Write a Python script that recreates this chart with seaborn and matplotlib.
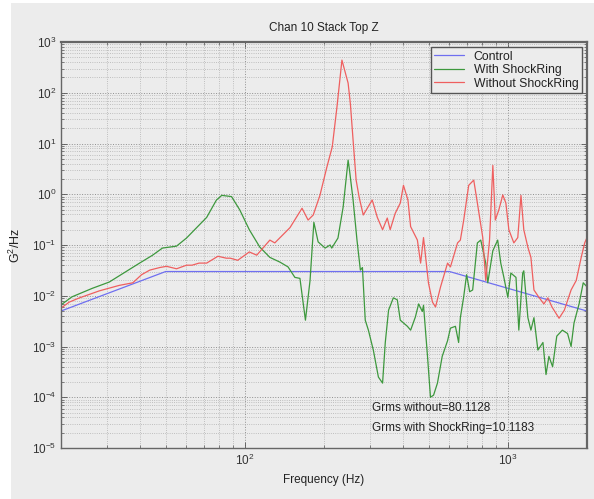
import numpy as np
import pandas as pd
import matplotlib
matplotlib.use("Agg")
import matplotlib.pyplot as plt
from matplotlib.patches import Rectangle
from matplotlib.ticker import LogLocator, NullFormatter, FixedLocator
import seaborn as sns

# ---------------- data ----------------
control_f = [20, 50, 600, 2000]
control_v = [0.005, 0.03, 0.03, 0.005]

with_f = [20, 22, 26.3, 30.5, 39.8, 44.6, 48.6, 55, 60, 65.6, 71.6, 78, 81.7, 89, 95.7,
          104, 114, 124.5, 136, 146, 155, 162, 170, 177, 183, 190, 202, 211, 214, 226,
          236.5, 247, 250, 258, 267, 275, 280, 287, 295, 308, 322, 334, 342, 352, 367,
          380, 390, 415, 427, 445, 458, 473, 478, 495, 508, 522, 540, 563, 590, 605,
          632, 650, 660, 679, 697, 716, 735, 766, 789, 824, 839, 877, 915, 940, 966,
          1000, 1027, 1074, 1101, 1139, 1150, 1192, 1224, 1257, 1301, 1360, 1397, 1433,
          1480, 1535, 1612, 1687, 1740, 1785, 1866, 1935, 2000]
with_v = [0.0066, 0.0095, 0.014, 0.0186, 0.044, 0.063, 0.087, 0.095, 0.137, 0.22, 0.35,
          0.77, 0.95, 0.9, 0.49,
          0.2, 0.091, 0.057, 0.046, 0.037, 0.023, 0.022, 0.0033, 0.02, 0.28, 0.115, 0.087,
          0.1, 0.087, 0.137,
          0.56, 4.7, 3.0, 0.77, 0.124, 0.032, 0.036, 0.0033, 0.0021, 0.00085, 0.00025,
          0.00019, 0.0012, 0.0052, 0.0091,
          0.0083, 0.0033, 0.0025, 0.0021, 0.0038, 0.0069, 0.0049, 0.0065, 0.00064, 0.0001,
          0.00011, 0.00019, 0.00064, 0.0013, 0.0023,
          0.0025, 0.0012, 0.0037, 0.0093, 0.026, 0.012, 0.013, 0.11, 0.125, 0.044, 0.018,
          0.077, 0.125, 0.044, 0.023,
          0.0093, 0.028, 0.023, 0.0021, 0.028, 0.031, 0.0037, 0.0021, 0.0037, 0.00085,
          0.0012, 0.00028, 0.00064,
          0.0004, 0.0016, 0.0021, 0.0018, 0.001, 0.0029, 0.0069, 0.018, 0.015]

without_f = [20, 21.5, 23.4, 28, 33.3, 37.5, 40.5, 43.5, 47.5, 50.4, 55, 60, 63, 67, 71.6,
             75.5, 79, 85, 88, 94, 104, 111, 124.5, 130, 148.5, 165, 174, 182, 193, 205,
             215, 224, 234, 247, 252, 258, 265, 272, 282, 305, 319, 334, 348, 357, 373,
             390, 401, 417, 427, 453, 466, 478, 499, 517, 531, 555, 590, 605, 644, 660,
             679, 710, 742, 766, 803, 824, 852, 877, 896, 924, 957, 983, 1009, 1054, 1091,
             1122, 1150, 1192, 1224, 1257, 1313, 1371, 1420, 1472, 1566, 1640, 1740, 1820,
             1901, 1960, 2000]
without_v = [0.0057, 0.0075, 0.009, 0.0125, 0.016, 0.018, 0.026, 0.032, 0.036, 0.038,
             0.034, 0.04, 0.04, 0.044, 0.044,
             0.052, 0.06, 0.055, 0.055, 0.05, 0.073, 0.063, 0.125, 0.11, 0.22, 0.53, 0.31,
             0.39, 0.95, 3.4,
             8.6, 52, 440, 155, 60, 11.7, 1.9, 0.88, 0.39, 0.77, 0.35, 0.2, 0.34, 0.2, 0.42,
             0.67, 1.5, 0.77, 0.23, 0.125, 0.044, 0.14, 0.018, 0.0075, 0.006, 0.015, 0.044,
             0.037, 0.11, 0.125,
             0.3, 1.5, 1.9, 0.67, 0.14, 0.02, 0.125, 3.7, 0.31, 0.49, 0.97, 0.67, 0.2, 0.11,
             0.14,
             0.95, 0.2, 0.09, 0.057, 0.013, 0.0093, 0.0069, 0.0091, 0.006, 0.0036, 0.0052,
             0.013, 0.02,
             0.057, 0.11, 0.14]

series_names = ["Control", "With ShockRing", "Without ShockRing"]
series_colors = ["#6f6ff0", "#3d983d", "#ef5f5f"]
title_text = "Chan 10 Stack Top Z"
xlabel_text = "Frequency (Hz)"
ylabel_text = "G$^2$/Hz"
note_lines = ["Grms without=80.1128", "Grms with ShockRing=10.1183"]
y_major = [1e-5, 1e-4, 1e-3, 1e-2, 1e-1, 1e0, 1e1, 1e2, 1e3]
x_major = [100, 1000]

# ---------------- styling ----------------
sns.set_style("ticks")
plt.rcParams["font.family"] = ["Liberation Sans", "DejaVu Sans"]
plt.rcParams["mathtext.fontset"] = "custom"
plt.rcParams["mathtext.rm"] = "Liberation Sans"

BG = "#ececec"
fig = plt.figure(figsize=(5.94, 4.99), dpi=100, facecolor="white")
fig.patches.append(Rectangle((11 / 594, 0), 1, (499 - 3) / 499,
                             transform=fig.transFigure, facecolor=BG,
                             edgecolor="none", zorder=-10))
ax = fig.add_axes([61 / 594, (499 - 448) / 499, 526 / 594, 406 / 499])
ax.set_facecolor(BG)

frames = []
for name, f, v in zip(series_names, [control_f, with_f, without_f],
                      [control_v, with_v, without_v]):
    frames.append(pd.DataFrame({"freq": f, "val": v, "series": name}))
df = pd.concat(frames, ignore_index=True)

sns.lineplot(data=df, x="freq", y="val", hue="series", hue_order=series_names,
             palette=series_colors, sort=False, estimator=None, lw=0.9, ax=ax,
             legend=True)

ax.set_xscale("log")
ax.set_yscale("log")
ax.set_xlim(20, 2000)
ax.set_ylim(1e-5, 1e3)

ax.yaxis.set_major_locator(FixedLocator(y_major))
ax.yaxis.set_minor_locator(LogLocator(base=10, subs=np.arange(2, 10), numticks=100))
ax.yaxis.set_minor_formatter(NullFormatter())
ax.xaxis.set_major_locator(FixedLocator(x_major))
ax.xaxis.set_minor_locator(LogLocator(base=10, subs=np.arange(2, 10), numticks=100))
ax.xaxis.set_minor_formatter(NullFormatter())

ax.grid(True, which="major", linestyle=":", color="#8f8f8f", lw=0.7)
ax.grid(True, which="minor", linestyle=":", color="#b0b0b0", lw=0.6)

ax.tick_params(which="both", direction="in", top=True, right=True,
               colors="#555555", labelcolor="#333333", labelsize=8.5)
ax.tick_params(which="major", length=4, width=0.6)
ax.tick_params(which="minor", length=2, width=0.5)
for side, sp in ax.spines.items():
    sp.set_color("#666666")
    sp.set_linewidth(1.0)
ax.spines["top"].set_linewidth(1.6)
ax.spines["right"].set_linewidth(1.6)

ax.set_title(title_text, fontsize=8.5, color="#222222", pad=8)
ax.set_xlabel(xlabel_text, fontsize=8.5, color="#222222", labelpad=4)
ax.set_ylabel(ylabel_text, fontsize=9, color="#222222", labelpad=6)

leg = ax.legend(loc="upper right", bbox_to_anchor=(0.9905, 0.9877), borderaxespad=0,
                fontsize=8.8, frameon=True, fancybox=False, handlelength=2.4,
                handletextpad=0.8, labelspacing=0.12, borderpad=0.3)
leg.get_frame().set_edgecolor("#555555")
leg.get_frame().set_linewidth(1.0)
leg.get_frame().set_facecolor(BG)
leg.get_frame().set_alpha(1)
for t in leg.get_texts():
    t.set_color("#222222")

ax.text(0.591, 0.0985, note_lines[0], transform=ax.transAxes, fontsize=8.5,
        color="#222222", va="center", ha="left")
ax.text(0.591, 0.049, note_lines[1], transform=ax.transAxes, fontsize=8.5,
        color="#222222", va="center", ha="left")

fig.savefig("out.png", dpi=100, facecolor=fig.get_facecolor())
